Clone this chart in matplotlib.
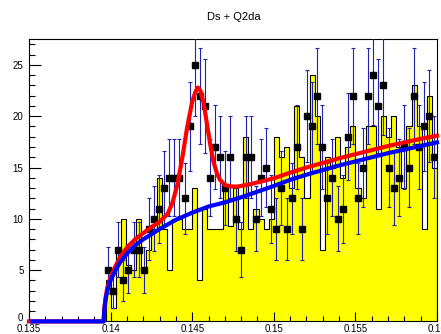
import numpy as np
import matplotlib
matplotlib.use('Agg')
import matplotlib.pyplot as plt
from matplotlib.ticker import FixedLocator, MultipleLocator

plt.rcParams['font.family'] = ['Liberation Sans Narrow', 'Liberation Sans', 'DejaVu Sans']

# ---------------- data ----------------
x_min, x_max = 0.135, 0.16
n_bins = 80
first_bin = 15          # first non-empty bin (pion threshold)

# yellow histogram, bins 15..79
hist_vals = [4, 1.3, 7, 10, 5.5, 5, 10, 5, 7, 9,
             14, 9, 5, 10, 10, 9, 9, 13, 4, 11,
             9, 9, 9, 13, 9.3, 13, 9, 18, 9, 11,
             10, 9, 10, 18, 16, 17, 13, 21, 16, 12,
             24, 20, 7, 16, 15, 18, 14, 17, 19, 13,
             12, 19, 19, 11, 20, 18, 20, 17, 13, 19,
             23, 19, 9, 22, 15]

# data points (black markers), bins 15..79
data_vals = [5, 3, 7, 4, 5, 7, 7, 5, 9, 10,
             11, 13, 14, 14, 14, 12, 19, 25, 22, 21,
             14, 17, 16, 13, 16, 10, 7, 16, 16, 10,
             14, 15, 11, 9, 13, 9, 12, 17, 9, 20,
             19, 22, 17, 12, 14, 10, 11, 18, 22, 12,
             15, 22, 24, 21, 23, 15, 13, 14, 17, 15,
             22, 17, 19, 20, 16]

# background curve (blue)
bkg_x = [0.1352, 0.13957, 0.13962, 0.1397, 0.1398, 0.1400, 0.1403, 0.1406, 0.1410,
         0.1415, 0.1420, 0.1425, 0.1430, 0.1440, 0.1450, 0.1460, 0.1470, 0.1480,
         0.1490, 0.1500, 0.1510, 0.1520, 0.1530, 0.1540, 0.1550, 0.1560, 0.1570,
         0.1580, 0.1590, 0.1600]
bkg_y = [0, 0, 1.2, 2.2, 3.0, 4.0, 5.0, 5.8, 6.6,
         7.4, 8.0, 8.5, 9.0, 9.9, 10.6, 11.2, 11.6, 12.1,
         12.65, 13.2, 13.8, 14.3, 14.75, 15.2, 15.6, 16.0, 16.4,
         16.75, 17.1, 17.45]

# total fit (red)
fit_x = [0.135, 0.13957, 0.13962, 0.1397, 0.1398, 0.1400, 0.1403, 0.1406, 0.1410,
         0.1415, 0.1420, 0.1425, 0.1430, 0.1435, 0.1438, 0.1441, 0.1444, 0.1447,
         0.1450, 0.1452, 0.14535, 0.1455, 0.1457, 0.1459, 0.1461, 0.1463, 0.1465,
         0.1467, 0.1470, 0.1474, 0.1478, 0.1485, 0.1490, 0.1500, 0.1510, 0.1520,
         0.1530, 0.1540, 0.1550, 0.1560, 0.1570, 0.1580, 0.1590, 0.1600]
fit_y = [0, 0, 1.3, 2.4, 3.3, 4.3, 5.4, 6.3, 7.2,
         8.0, 8.6, 9.2, 9.7, 10.5, 11.6, 13.4, 16.0, 19.0,
         21.4, 22.4, 22.8, 22.5, 21.3, 19.3, 17.3, 15.6, 14.5,
         13.8, 13.3, 13.15, 13.15, 13.35, 13.55, 13.95, 14.5, 15.0,
         15.45, 15.9, 16.3, 16.7, 17.1, 17.45, 17.8, 18.1]

x_ticks = [0.135, 0.14, 0.145, 0.15, 0.155, 0.16]
x_tick_labels = ['0.135', '0.14', '0.145', '0.15', '0.155', '0.16']
y_ticks = [0, 5, 10, 15, 20, 25]
y_tick_labels = ['0', '5', '10', '15', '20', '25']
title = 'Ds + Q2da'
#############################################################

edges = np.linspace(x_min, x_max, n_bins + 1)
centers = 0.5 * (edges[:-1] + edges[1:])
h = np.zeros(n_bins)
h[first_bin:] = hist_vals
d = np.array(data_vals, dtype=float)
dc = centers[first_bin:]

fig = plt.figure(figsize=(4.41, 3.34), dpi=100)
ax = fig.add_axes([29 / 441, 12.6 / 334, 408 / 441, 282.1 / 334])

ax.stairs(h, edges, fill=True, color='#ffff00', zorder=1)
ax.stairs(h, edges, color='black', lw=0.8, zorder=2)
ax.errorbar(dc, d, yerr=np.sqrt(d), fmt='s', color='black', ms=3.8,
            ecolor='#2222b0', elinewidth=0.8, capsize=1.5, capthick=0.8, zorder=3)
ax.plot(fit_x, fit_y, color='#ff0000', lw=3, zorder=4, clip_on=False)
ax.plot(bkg_x, bkg_y, color='#0000ff', lw=3, zorder=5, clip_on=False)

ax.set_xlim(x_min, x_max)
ax.set_ylim(0, 27.5)
ax.xaxis.set_major_locator(FixedLocator(x_ticks))
ax.set_xticklabels(x_tick_labels)
ax.xaxis.set_minor_locator(MultipleLocator(0.001))
ax.yaxis.set_major_locator(FixedLocator(y_ticks))
ax.set_yticklabels(y_tick_labels)
ax.yaxis.set_minor_locator(MultipleLocator(1))

ax.tick_params(which='both', direction='in', top=False, right=False, labelsize=7)
ax.tick_params(axis='y', which='major', length=8.6, width=0.8, pad=4)
ax.tick_params(axis='y', which='minor', length=4.3, width=0.8)
ax.tick_params(axis='x', which='major', length=6.5, width=0.8, pad=2)
ax.tick_params(axis='x', which='minor', length=3.6, width=0.8)
# sit the "0" label on the axis so it clears "0.135" below it
ax.get_yticklabels()[0].set_verticalalignment('baseline')
for s in ax.spines.values():
    s.set_linewidth(0.8)

fig.text(0.531, 0.948, title, ha='center', va='center', fontsize=8)

fig.savefig('out.png', dpi=100)
